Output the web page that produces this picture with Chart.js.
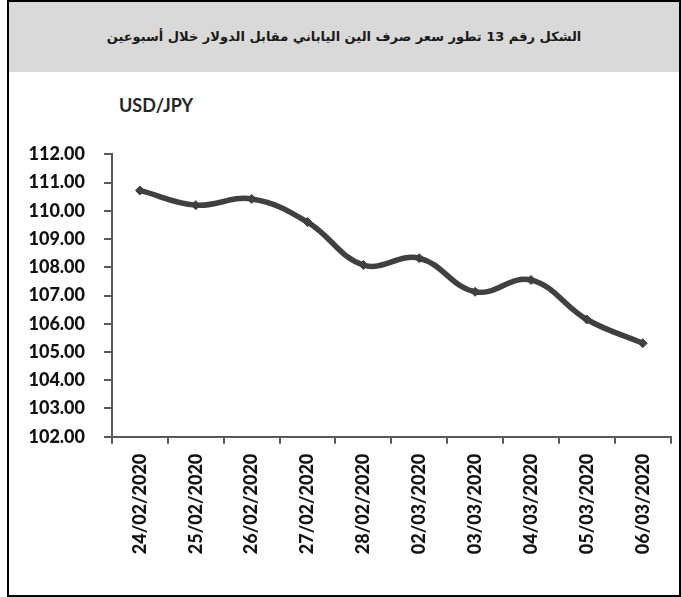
<!DOCTYPE html>
<html>
<head>
<meta charset="utf-8">
<script src="https://cdn.jsdelivr.net/npm/chart.js@4.4.1/dist/chart.umd.min.js"></script>
<style>
  html, body { margin:0; padding:0; background:#ffffff; }
  #wrap { position:relative; width:681px; height:597px; overflow:hidden; }
  #frame { position:absolute; left:7px; top:0px; width:670px; height:593px; border:2px solid #000; box-sizing:content-box; }
  #band { position:absolute; left:9px; top:2px; width:670px; height:70px; background:#d9d9d9; }
  #title { position:absolute; left:9px; top:2px; width:670px; height:70px; line-height:70px; text-align:center;
           font-family:"DejaVu Sans", sans-serif; font-weight:bold; font-size:13px; color:#1a1a1a; direction:rtl; }
  #unit { position:absolute; left:119px; top:94px; font-family:Lato, sans-serif; font-weight:bold; font-size:18px; color:#262626; }
  canvas { position:absolute; left:0; top:0; }
</style>
</head>
<body>
<div id="wrap">
  <div id="frame"></div>
  <div id="band"></div>
  <div id="title">الشكل رقم 13 تطور سعر صرف الين الياباني مقابل الدولار خلال أسبوعين</div>
  <div id="unit">USD/JPY</div>
  <canvas id="c" width="681" height="597"></canvas>
</div>
<script>
const dates = ["24/02/2020","25/02/2020","26/02/2020","27/02/2020","28/02/2020","02/03/2020","03/03/2020","04/03/2020","05/03/2020","06/03/2020"];
const usdJpy = [110.72, 110.20, 110.42, 109.60, 108.08, 108.32, 107.13, 107.55, 106.15, 105.31];
const yMin = 102, yMax = 112, yStep = 1;

const axisColor = '#595959';
function draw() {
  new Chart(document.getElementById('c'), {
    type: 'line',
    data: {
      labels: dates,
      datasets: [{
        data: usdJpy,
        borderColor: '#404040',
        backgroundColor: '#404040',
        borderWidth: 5.5,
        tension: 0.4,
        pointStyle: 'rectRot',
        pointRadius: 4.5,
        pointBorderWidth: 1,
        fill: false
      }]
    },
    options: {
      responsive: false,
      animation: false,
      layout: { padding: { left: 0, right: 10.3, top: 154.3, bottom: 0 } },
      plugins: { legend: { display: false }, tooltip: { enabled: false } },
      scales: {
        x: {
          type: 'category',
          offset: true,
          grid: { offset: true, drawOnChartArea: false, drawTicks: true, tickLength: 7, color: axisColor, lineWidth: 2 },
          border: { color: axisColor, width: 2 },
          ticks: { minRotation: 90, maxRotation: 90, padding: 10, color: '#111111',
                   font: { family: 'Lato', weight: 900, size: 18 } },
          afterFit: s => { s.height = 597 - 436.7; }
        },
        y: {
          min: yMin, max: yMax,
          grid: { drawOnChartArea: false, drawTicks: true, tickLength: 8, color: axisColor, lineWidth: 2 },
          border: { color: axisColor, width: 2 },
          ticks: { stepSize: yStep, padding: 19, color: '#111111',
                   font: { family: 'Lato', weight: 900, size: 18 },
                   callback: v => Number(v).toFixed(2) },
          afterFit: s => { s.width = 112; }
        }
      }
    }
  });
}
if (document.fonts && document.fonts.load) {
  Promise.all([document.fonts.load('900 18px Lato'), document.fonts.load('bold 18px Lato')]).then(draw, draw);
} else { draw(); }
</script>
</body>
</html>
